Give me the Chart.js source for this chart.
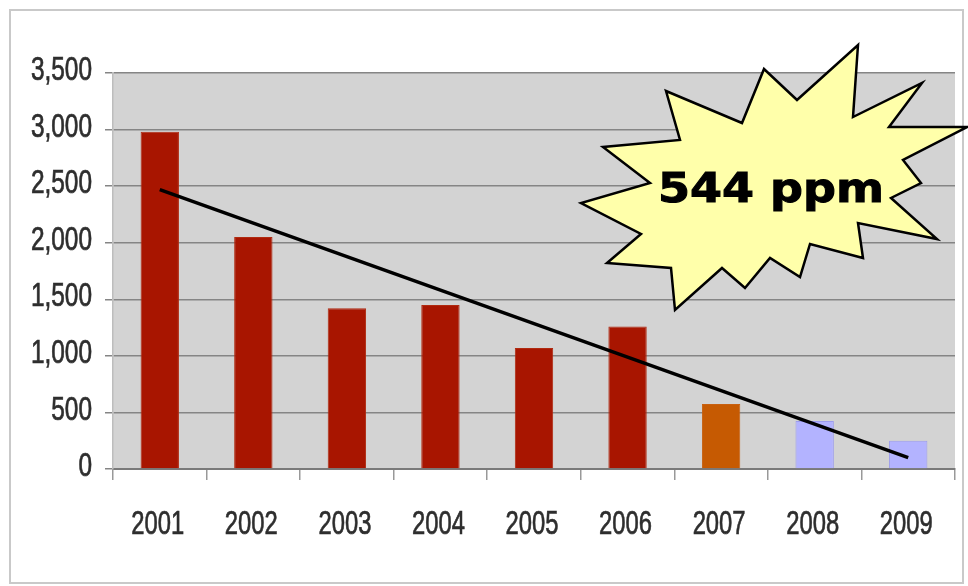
<!DOCTYPE html>
<html>
<head>
<meta charset="utf-8">
<script src="https://cdn.jsdelivr.net/npm/chart.js@4/dist/chart.umd.min.js"></script>
<style>
  html, body { margin: 0; padding: 0; background: #ffffff; }
  #wrap { width: 968px; height: 586px; position: relative; }
</style>
</head>
<body>
<div id="wrap"><canvas id="c" width="968" height="586"></canvas></div>
<script>
// ---- data ----
const years = ['2001', '2002', '2003', '2004', '2005', '2006', '2007', '2008', '2009'];
const values = [2980, 2050, 1420, 1450, 1070, 1260, 575, 425, 250];
const trendValues = [2470, null, null, null, null, null, null, null, 100];
const yMin = 0;
const yMax = 3500;
const yStep = 500;
const calloutText = '544 ppm';

// ---- styles ----
const RED = '#A81500', ORANGE = '#C65A02', LAV = '#B3B3FF';
const barColors = [RED, RED, RED, RED, RED, RED, ORANGE, LAV, LAV];
const barBorders = ['#B02A10', '#B02A10', '#B02A10', '#B02A10', '#B02A10', '#B02A10', '#C86010', '#9C9CEE', '#9C9CEE'];
const FONT = "'Liberation Sans', Arial, sans-serif";
const LABEL_COLOR = '#2e2e2e';

// starburst callout outline (decoration, canvas pixels)
const starPts = [
  [858,45],[853,117],[922,83],[889,127],[967,127],[903,160],[921,183],[891,198],
  [937,239],[858,223],[863,258],[810,244],[800,277],[770,258],[745,288],[722,268],
  [675,310],[671,268],[607,263],[641,234],[581,203],[650,183],[603,147],[680,140],
  [666,91],[742,123],[764,69],[797,100]
];

// draws a horizontally condensed label (narrow-font look)
function narrowText(ctx, text, x, y, size, squeeze, align) {
  ctx.save();
  ctx.font = size + 'px ' + FONT;
  ctx.fillStyle = LABEL_COLOR;
  ctx.strokeStyle = LABEL_COLOR;
  ctx.lineWidth = 0.7;
  ctx.textBaseline = 'middle';
  ctx.textAlign = align;
  ctx.translate(x, y);
  ctx.scale(squeeze, 1);
  ctx.fillText(text, 0, 0);
  ctx.strokeText(text, 0, 0);
  ctx.restore();
}

const decor = {
  id: 'decor',
  beforeDraw(chart) {
    const ctx = chart.ctx, a = chart.chartArea;
    ctx.save();
    ctx.fillStyle = '#ffffff';
    ctx.fillRect(0, 0, chart.width, chart.height);
    ctx.strokeStyle = '#c9c9c9';
    ctx.lineWidth = 2;
    ctx.strokeRect(10, 10, 953, 573);
    ctx.fillStyle = '#d3d3d3';
    ctx.fillRect(a.left, a.top, a.right - a.left, a.bottom - a.top);
    ctx.restore();
  },
  afterDraw(chart) {
    const ctx = chart.ctx;
    // axis labels through the library's scales
    const ys = chart.scales.y, xs = chart.scales.x;
    ys.ticks.forEach(t => {
      const py = ys.getPixelForValue(t.value);
      narrowText(ctx, Number(t.value).toLocaleString('en-US'), 92, py - 2, 33, 0.74, 'right');
    });
    xs.ticks.forEach((t, i) => {
      const px = xs.getPixelForTick(i);
      narrowText(ctx, xs.getLabelForValue(t.value), px - 2, 525, 34, 0.7, 'center');
    });

    ctx.save();
    ctx.beginPath();
    starPts.forEach((p, i) => i ? ctx.lineTo(p[0], p[1]) : ctx.moveTo(p[0], p[1]));
    ctx.closePath();
    ctx.fillStyle = '#FFFFAA';
    ctx.fill();
    ctx.lineJoin = 'miter';
    ctx.lineWidth = 2.5;
    ctx.strokeStyle = '#000000';
    ctx.stroke();
    ctx.font = "bold 41px 'DejaVu Sans', Verdana, sans-serif";
    const w = ctx.measureText(calloutText).width;
    const targetW = 226;
    ctx.translate(771, 202);
    ctx.scale(targetW / w, 1);
    ctx.fillStyle = '#000000';
    ctx.strokeStyle = '#000000';
    ctx.lineWidth = 1;
    ctx.textAlign = 'center';
    ctx.textBaseline = 'alphabetic';
    ctx.fillText(calloutText, 0, 0);
    ctx.strokeText(calloutText, 0, 0);
    ctx.restore();
  }
};

const yTickValues = [];
for (let v = yMin; v <= yMax; v += yStep) yTickValues.push(v);

new Chart(document.getElementById('c'), {
  data: {
    labels: years,
    datasets: [
      {
        type: 'line',
        data: trendValues,
        spanGaps: true,
        borderColor: '#000000',
        borderWidth: 3.5,
        pointRadius: 0,
        tension: 0,
        order: 0
      },
      {
        type: 'bar',
        data: values,
        backgroundColor: barColors,
        borderColor: barBorders,
        borderWidth: 1,
        barPercentage: 0.41,
        categoryPercentage: 1,
        order: 1
      }
    ]
  },
  options: {
    responsive: false,
    animation: false,
    devicePixelRatio: 1,
    layout: { padding: { top: 73, right: 13, left: 0, bottom: 0 } },
    plugins: { legend: { display: false }, tooltip: { enabled: false } },
    scales: {
      x: {
        type: 'category',
        offset: true,
        grid: {
          offset: true,
          drawOnChartArea: false,
          drawTicks: true,
          tickLength: 11,
          color: '#999999',
          lineWidth: 1.5
        },
        border: { display: true, color: '#7a7a7a', width: 2 },
        ticks: {
          color: 'rgba(0,0,0,0)',
          font: { family: FONT, size: 30 },
          padding: 20,
          maxRotation: 0
        },
        afterFit(scale) { scale.height = 586 - 469; }
      },
      y: {
        min: yMin,
        max: yMax,
        afterBuildTicks(scale) { scale.ticks = yTickValues.map(v => ({ value: v })); },
        grid: {
          color: '#858585',
          lineWidth: 1.5,
          tickLength: 8,
          drawTicks: true
        },
        border: { display: true, color: '#bdbdbd', width: 1.5 },
        ticks: {
          color: 'rgba(0,0,0,0)',
          font: { family: FONT, size: 30 },
          padding: 12,
          callback: v => Number(v).toLocaleString('en-US')
        },
        afterFit(scale) { scale.width = 113; }
      }
    }
  },
  plugins: [decor]
});
</script>
</body>
</html>
